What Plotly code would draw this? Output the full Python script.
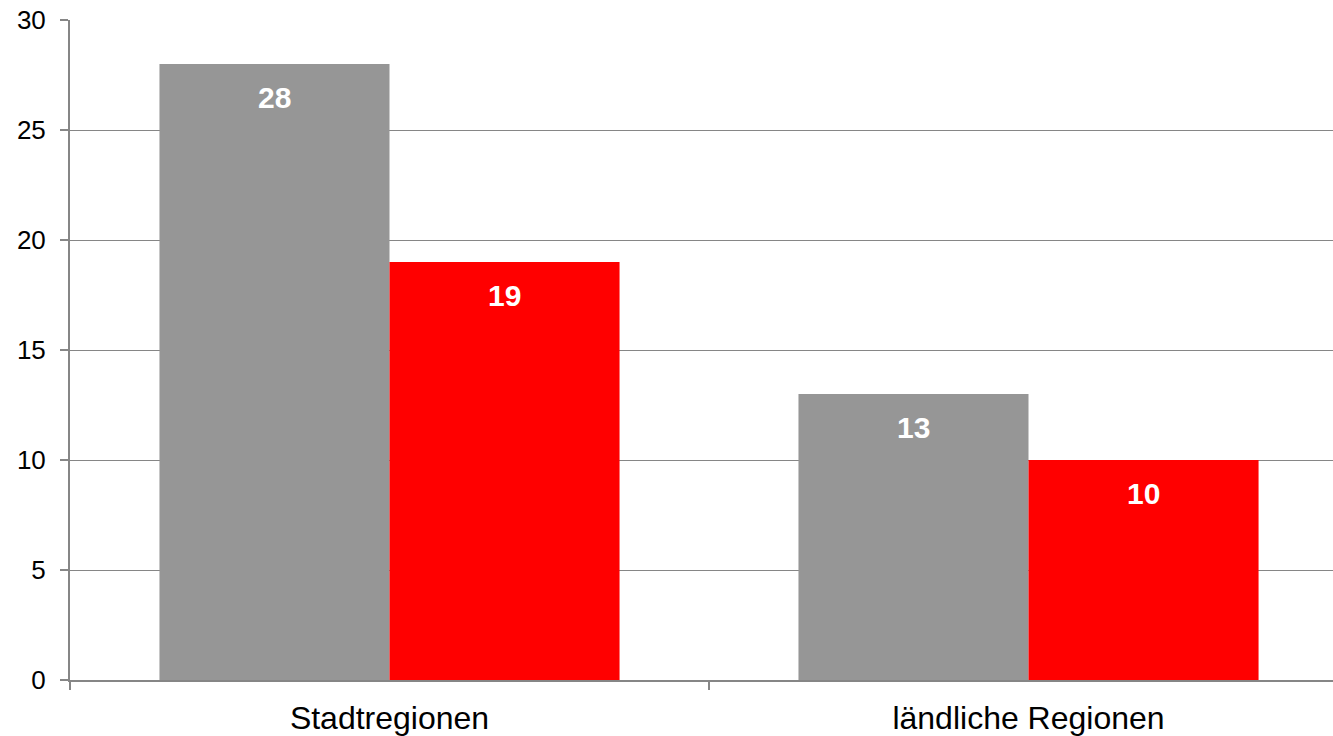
import plotly.graph_objects as go

categories = ["Stadtregionen", "ländliche Regionen"]
gray_values = [28, 13]
red_values = [19, 10]

gray = "#969696"
red = "#FF0000"
axis_gray = "#868686"

fig = go.Figure()
fig.add_trace(go.Bar(x=categories, y=gray_values, marker=dict(color=gray, line=dict(width=0)), name="A"))
fig.add_trace(go.Bar(x=categories, y=red_values, marker=dict(color=red, line=dict(width=0)), name="B"))

# value labels inside the bars, a bit below the top
for cat, g, r in zip(categories, gray_values, red_values):
    for val, shift in ((g, -115), (r, 115)):
        fig.add_annotation(
            x=cat, y=val, xshift=shift, yshift=-33,
            text=str(val), showarrow=False, yanchor="middle",
            font=dict(family="Liberation Sans, Arial", size=30, color="white", weight="bold"),
        )

fig.update_layout(
    barmode="group",
    bargap=0.28,
    bargroupgap=0,
    showlegend=False,
    plot_bgcolor="white",
    paper_bgcolor="white",
    width=1333,
    height=736,
    margin=dict(l=70, r=0, t=20, b=56, autoexpand=False),
    font=dict(family="Liberation Sans, Arial", color="black"),
)

fig.update_xaxes(
    range=[-0.5, 1.4765],
    tickson="boundaries",
    ticks="outside",
    ticklen=8,
    tickcolor=axis_gray,
    tickwidth=2,
    showline=True,
    linecolor=axis_gray,
    linewidth=2,
    showgrid=False,
    tickfont=dict(size=32),
    ticklabelstandoff=9,
)

fig.update_yaxes(
    range=[0, 30],
    tickvals=[0, 5, 10, 15, 20, 25, 30],
    ticks="outside",
    ticklen=8,
    tickcolor=axis_gray,
    tickwidth=2,
    showline=True,
    linecolor=axis_gray,
    linewidth=2,
    showgrid=True,
    gridcolor=axis_gray,
    gridwidth=1,
    zeroline=False,
    tickfont=dict(size=26),
    ticklabelstandoff=9,
)

# drop the default 8px body margin so the figure fills the window
fig.write_html(
    "out.html",
    config={"displayModeBar": False},
    post_script="document.body.style.margin='0';",
)
